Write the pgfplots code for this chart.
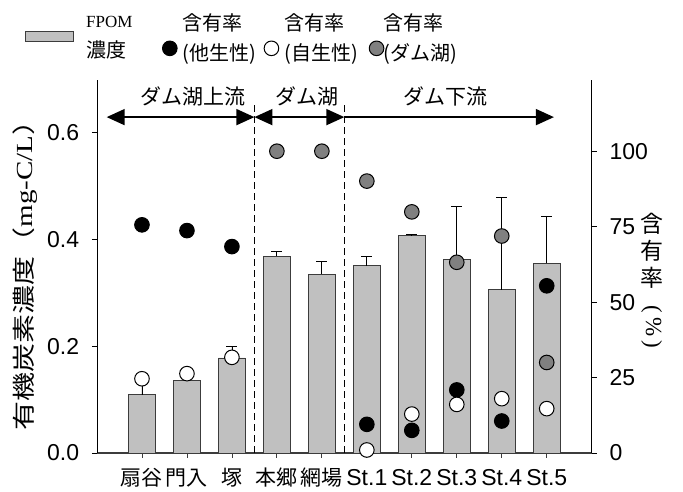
\documentclass[border=0pt]{standalone}
\usepackage{fontspec}
\setmainfont{Liberation Sans}
\newfontfamily\jp{Noto Sans CJK JP}
\newfontfamily\tms{Liberation Serif}
\usepackage{pgfplots}
\usepackage{pgfplotstable}
\pgfplotsset{compat=1.18}
\usetikzlibrary{arrows.meta}

\definecolor{barfill}{RGB}{192,192,192}
\definecolor{dotgray}{RGB}{128,128,128}
\definecolor{axgray}{RGB}{60,60,60}

\pgfplotsset{dotleg/.style={legend image code/.code={\draw[##1] plot coordinates {(8pt,-10pt)};}}}

\pgfplotstableread{
x y err
0 0.109 0.030
1 0.136 0.004
2 0.178 0.021
3 0.368 0.009
4 0.335 0.023
5 0.351 0.017
6 0.408 0.001
7 0.363 0.098
8 0.306 0.172
9 0.355 0.089
}\bars

\pgfplotstableread{
x y
0 75.6
1 73.7
2 68.4
5 9.5
6 7.5
7 20.9
8 10.6
9 55.4
}\blackdots

\pgfplotstableread{
x y
0 24.6
1 26.3
2 31.7
5 1.0
6 12.9
7 16.1
8 18.0
9 14.7
}\whitedots

\pgfplotstableread{
x y
3 100
4 100
5 90.1
6 79.9
7 63.2
8 71.9
9 30.0
}\graydots

\newcommand{\jx}[1]{{\jp\fontsize{21}{25}\selectfont #1}}

\begin{document}
\fontsize{23}{27}\selectfont
\begin{tikzpicture}
\pgfplotsset{
  base/.style={
    scale only axis, width=494.7pt, height=373pt,
    xmin=-1, xmax=10,
    /pgf/number format/assume math mode=true,
    tick style={black, line width=0.6pt},
    major tick length=5pt,
    tick align=outside,
    ticklabel style={font=\fontsize{23}{27}\selectfont},
  }
}
\begin{axis}[base, name=ax,
  ymin=0, ymax=0.6985,
  axis x line*=bottom, axis y line*=left,
  x axis line style={axgray, line width=1.6pt, -},
  y axis line style={black, line width=0.8pt, -},
  xtick={0,...,9},
  xticklabels={\jx{扇谷},\jx{門入},\jx{塚},\jx{本郷},\jx{網場},St.1,St.2,St.3,St.4,St.5},
  x tick label style={yshift=-3pt, text height=17pt},
  x tick style={axgray, line width=0.8pt},
  ytick={0,0.2,0.4,0.6},
  yticklabel style={/pgf/number format/fixed, /pgf/number format/fixed zerofill, /pgf/number format/precision=1, xshift=-5pt},
  clip=false,
]
\addplot[ybar, bar width=0.6, fill=barfill, draw=axgray, line width=0.8pt,
  error bars/.cd, y dir=plus, y explicit,
  error bar style={black, line width=0.8pt},
  error mark options={rotate=90, mark size=5.5pt, line width=0.8pt}]
  table[x=x, y=y, y error=err] {\bars};
% dashed separators
\draw[dash pattern=on 7pt off 4pt, line width=1.4pt] (axis cs:2.5,0) -- (axis cs:2.5,0.658);
\draw[dash pattern=on 7pt off 4pt, line width=1.4pt] (axis cs:4.5,0) -- (axis cs:4.5,0.658);
% arrows
\draw[line width=1.6pt, {Triangle[length=18pt,width=16pt]}-{Triangle[length=18pt,width=16pt]}] (axis cs:-0.785,0.629) -- (axis cs:2.5,0.629);
\draw[line width=1.6pt, {Triangle[length=18pt,width=16pt]}-{Triangle[length=18pt,width=16pt]}] (axis cs:2.5,0.629) -- (axis cs:4.5,0.629);
\draw[line width=1.6pt, -{Triangle[length=18pt,width=16pt]}] (axis cs:4.5,0.629) -- (axis cs:9.16,0.629);
\node[font=\jp\fontsize{21}{24}\selectfont] at (axis cs:1.13,0.667) {ダム湖上流};
\node[font=\jp\fontsize{21}{24}\selectfont] at (axis cs:3.66,0.667) {ダム湖};
\node[font=\jp\fontsize{21}{24}\selectfont] at (axis cs:6.74,0.667) {ダム下流};
% left label
\node[rotate=90, inner sep=0pt] at ([xshift=-72pt,yshift=-2pt]rel axis cs:0,0.5)
  {\resizebox{324pt}{\height}{\fontsize{23}{27}\selectfont{\jp 有機炭素濃度（}{\tms mg-C/L}{\jp ）}}};
\end{axis}

\begin{axis}[base,
  ymin=0, ymax=123.6,
  axis x line=none, axis y line*=right,
  y axis line style={black, line width=0.8pt, -},
  ytick={0,25,50,75,100},
  yticklabel style={xshift=5pt},
  clip=false,
  legend columns=4,
  legend cell align=left,
  legend style={draw=none, fill=none, inner sep=0pt, at={(rel axis cs:-0.1455,1.185)}, anchor=north west,
    font=\jp\fontsize{20}{30}\selectfont,
    cells={anchor=west, align=left, inner sep=0pt},
    /tikz/column 1/.style={column sep=10pt},
    /tikz/column 2/.style={column sep=28pt},
    /tikz/column 3/.style={column sep=3.5pt},
    /tikz/column 4/.style={column sep=6pt},
    /tikz/column 5/.style={column sep=3.5pt},
    /tikz/column 6/.style={column sep=9.5pt},
    /tikz/column 7/.style={column sep=-2pt},
  },
]
\addlegendimage{legend image code/.code={\draw[fill=barfill, draw=axgray, line width=1pt] (0pt,-3pt) rectangle (48pt,7pt);}}
\addlegendentry{\fontsize{17}{24}\selectfont{\tms FPOM}\\濃度}
\addplot[only marks, mark=*, mark size=7.3pt, mark options={fill=black, draw=black, line width=1pt}, dotleg]
  table[x=x,y=y] {\blackdots};
\addlegendentry{含有率\\(他生性)}
\addplot[only marks, mark=*, mark size=7.3pt, mark options={fill=white, draw=black, line width=1pt}, dotleg]
  table[x=x,y=y] {\whitedots};
\addlegendentry{含有率\\(自生性)}
\addplot[only marks, mark=*, mark size=7.3pt, mark options={fill=dotgray, draw=black, line width=1pt}, dotleg]
  table[x=x,y=y] {\graydots};
\addlegendentry{含有率\\(ダム湖)}
\node[anchor=north, font=\jp\fontsize{23}{27}\selectfont, align=center, inner sep=0pt] at ([xshift=60pt]rel axis cs:1,0.643) {含\\有\\率\\[16pt]\rotatebox[origin=c]{-90}{\tms (\,\%\,)}};
\end{axis}
\pgfresetboundingbox
\path[use as bounding box] (-97pt,-39pt) rectangle (586pt,453pt);
\end{tikzpicture}
\end{document}
